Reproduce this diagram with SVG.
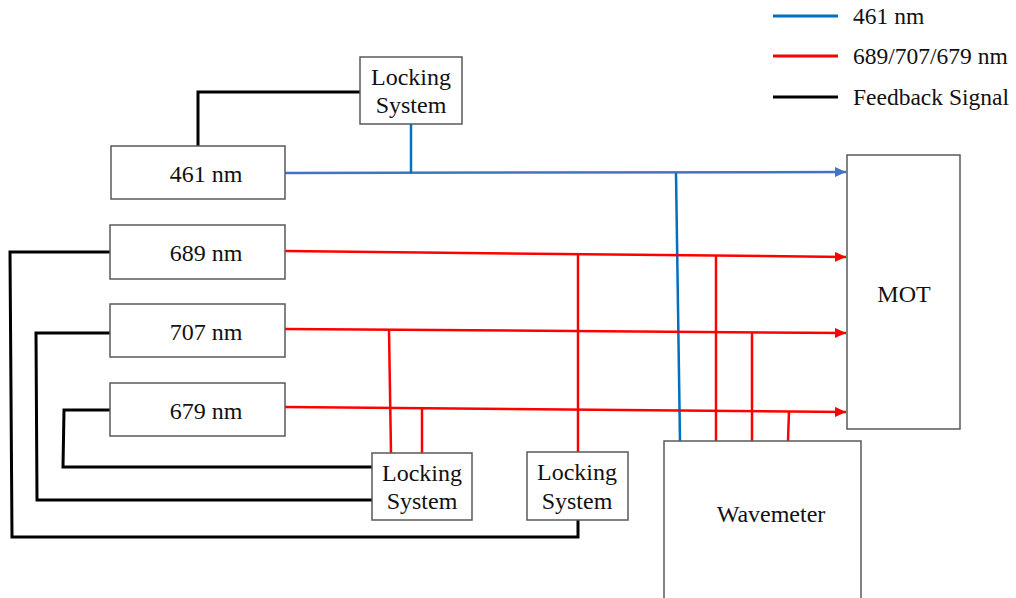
<svg xmlns="http://www.w3.org/2000/svg" width="1016" height="598" viewBox="0 0 1016 598">
<style>
.box{fill:#fff;stroke:#595959;stroke-width:1.5}
text{font-family:'Liberation Serif','Times New Roman','DejaVu Serif',serif;fill:#111}
.t{font-size:24px;text-anchor:middle}
.lt{font-size:23.5px}
.k{fill:none;stroke:#000;stroke-width:3;stroke-linejoin:miter}
.r{fill:none;stroke:#ff0000;stroke-width:2.5}
.b{fill:none;stroke:#4472c4;stroke-width:2.5}
.b2{fill:none;stroke:#0070c0;stroke-width:2.5}
</style>
<defs>
<marker id="ar" markerUnits="userSpaceOnUse" markerWidth="12" markerHeight="10" refX="11" refY="5" orient="auto"><path d="M0,0 L11,5 L0,10 Z" fill="#ff0000"/></marker>
<marker id="ab" markerUnits="userSpaceOnUse" markerWidth="12" markerHeight="10" refX="11" refY="5" orient="auto"><path d="M0,0 L11,5 L0,10 Z" fill="#4472c4"/></marker>
</defs>
<g id="legend">
<line x1="773" y1="16" x2="838" y2="16" stroke="#0070c0" stroke-width="3"/>
<text class="lt" x="853" y="24">461 nm</text>
<line x1="773" y1="56" x2="838" y2="56" stroke="#ff0000" stroke-width="3"/>
<text class="lt" x="853" y="64">689/707/679 nm</text>
<line x1="773" y1="97" x2="838" y2="97" stroke="#000" stroke-width="3"/>
<text class="lt" x="853" y="105">Feedback Signal</text>
</g>
<g id="connectors">
<polyline class="k" points="198,146 198,92 360,92"/>
<polyline class="k" points="110,252 10,252 12,537 578,537 578,520"/>
<polyline class="k" points="110,333 36,333 37,500 372,500"/>
<polyline class="k" points="110,410 64,410 63,467 372,467"/>
<line class="b" x1="285" y1="173" x2="846" y2="172" marker-end="url(#ab)"/>
<line class="b2" x1="411" y1="124" x2="411" y2="173"/>
<line class="b2" x1="676" y1="173" x2="680" y2="441"/>
<line class="r" x1="285" y1="251" x2="846" y2="257" marker-end="url(#ar)"/>
<line class="r" x1="285" y1="329" x2="846" y2="333" marker-end="url(#ar)"/>
<line class="r" x1="285" y1="407" x2="846" y2="412" marker-end="url(#ar)"/>
<line class="r" x1="389" y1="330" x2="391" y2="453"/>
<line class="r" x1="422" y1="408" x2="422" y2="453"/>
<line class="r" x1="578" y1="254" x2="578" y2="452"/>
<line class="r" x1="716" y1="255" x2="716" y2="441"/>
<line class="r" x1="752" y1="332" x2="752" y2="441"/>
<line class="r" x1="789" y1="411" x2="788" y2="441"/>
</g>
<g id="lock-top"><rect class="box" x="360" y="57" width="102" height="67"/><text class="t" x="411" y="85">Locking</text><text class="t" x="411" y="113">System</text></g>
<g id="laser-461"><rect class="box" x="111" y="146" width="174" height="53"/><text class="t" x="206" y="182">461 nm</text></g>
<g id="laser-689"><rect class="box" x="110" y="225" width="175" height="54"/><text class="t" x="206" y="261">689 nm</text></g>
<g id="laser-707"><rect class="box" x="110" y="304" width="175" height="53"/><text class="t" x="206" y="340">707 nm</text></g>
<g id="laser-679"><rect class="box" x="110" y="383" width="175" height="53"/><text class="t" x="206" y="419">679 nm</text></g>
<g id="lock-1"><rect class="box" x="372" y="453" width="100" height="67"/><text class="t" x="422" y="481">Locking</text><text class="t" x="422" y="509">System</text></g>
<g id="lock-2"><rect class="box" x="527" y="452" width="101" height="68"/><text class="t" x="577" y="480">Locking</text><text class="t" x="577" y="509">System</text></g>
<g id="mot"><rect class="box" x="847" y="155" width="113" height="274"/><text class="t" x="904" y="302">MOT</text></g>
<g id="wavemeter"><rect class="box" x="664" y="441" width="197" height="160"/><text class="t" x="771" y="522">Wavemeter</text></g>
</svg>
